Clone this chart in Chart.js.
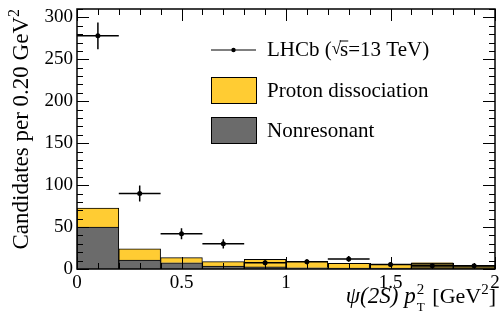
<!DOCTYPE html>
<html><head><meta charset="utf-8">
<script src="https://cdn.jsdelivr.net/npm/chart.js@4/dist/chart.umd.min.js"></script>
<style>html,body{margin:0;padding:0;background:#fff;}canvas{display:block;}</style>
</head><body>
<canvas id="c" width="499" height="324"></canvas>
<script>
// ---- data ----
const binCenters = [0.1, 0.3, 0.5, 0.7, 0.9, 1.1, 1.3, 1.5, 1.7, 1.9];
const binHalfWidth = 0.1;
const nonresonant = [50, 10.5, 7.5, 3.5, 2.5, 1.5, 1, 1, 7, 4];
const protonDissociation = [22.5, 13.5, 6, 5.2, 9, 7.5, 5.8, 4.5, 0.5, 0.5];
const lhcbValues = [278, 90, 42, 30, 7.5, 8.7, 12, 5.5, 4, 4];
const lhcbErrors = [16, 9.5, 6.5, 5.5, 3, 3, 3.5, 2.5, 2, 2];
const yTickValues = [0, 50, 100, 150, 200, 250, 300];
const xTickValues = [0, 0.5, 1, 1.5, 2];
const xTickLabels = ["0", "0.5", "1", "1.5", "2"];

const FONT = "'Liberation Serif', 'DejaVu Serif', serif";
const greyColors = nonresonant.map((v, i) => i >= 8 ? '#6a5a22' : '#6b6b6b');

const decor = {
  id: 'decor',
  afterDatasetsDraw(chart) {
    const ctx = chart.ctx, x = chart.scales.x, y = chart.scales.y, a = chart.chartArea;
    ctx.save();
    // error bars
    ctx.strokeStyle = '#000'; ctx.lineWidth = 1.5;
    binCenters.forEach((c, i) => {
      const px = x.getPixelForValue(c), py = y.getPixelForValue(lhcbValues[i]);
      ctx.beginPath();
      ctx.moveTo(x.getPixelForValue(c - binHalfWidth), py);
      ctx.lineTo(x.getPixelForValue(c + binHalfWidth), py);
      ctx.moveTo(px, y.getPixelForValue(lhcbValues[i] - lhcbErrors[i]));
      ctx.lineTo(px, y.getPixelForValue(lhcbValues[i] + lhcbErrors[i]));
      ctx.stroke();
    });
    // ticks
    ctx.lineWidth = 1;
    ctx.beginPath();
    for (let v = 0; v <= 310; v += 10) {
      const py = Math.round(y.getPixelForValue(v)) + 0.5;
      const len = v % 50 === 0 ? 12 : 6;
      ctx.moveTo(a.left, py); ctx.lineTo(a.left + len, py);
      ctx.moveTo(a.right, py); ctx.lineTo(a.right - len, py);
    }
    for (let k = 0; k <= 20; k++) {
      const v = k / 10;
      const px = Math.round(x.getPixelForValue(v)) + 0.5;
      const len = k % 5 === 0 ? 12 : 6;
      ctx.moveTo(px, a.top); ctx.lineTo(px, a.top + len);
      ctx.moveTo(px, a.bottom); ctx.lineTo(px, a.bottom - len);
    }
    ctx.stroke();
    // frame
    ctx.lineWidth = 1.5;
    ctx.strokeRect(a.left, a.top, a.right - a.left, a.bottom - a.top);
    // tick labels
    ctx.fillStyle = '#000';
    ctx.font = '19px ' + FONT;
    ctx.textAlign = 'right'; ctx.textBaseline = 'middle';
    yTickValues.forEach(v => ctx.fillText(String(v), a.left - 4, y.getPixelForValue(v)));
    ctx.textAlign = 'center'; ctx.textBaseline = 'top';
    xTickValues.forEach((v, i) => ctx.fillText(xTickLabels[i], x.getPixelForValue(v), a.bottom + 5));
    // y title
    ctx.save();
    ctx.translate(28, a.top);
    ctx.rotate(-Math.PI / 2);
    ctx.textAlign = 'right'; ctx.textBaseline = 'alphabetic';
    ctx.font = '16px ' + FONT;
    const sup = '2';
    const supW = ctx.measureText(sup).width;
    ctx.fillText(sup, 0, -9);
    ctx.font = '23px ' + FONT;
    ctx.fillText('Candidates per 0.20 GeV', -supW, 0);
    ctx.restore();
    // x title
    ctx.textAlign = 'left'; ctx.textBaseline = 'alphabetic';
    const base = 303;
    const parts = [
      {t: 'ψ(2S) p', f: 'italic 23px ' + FONT, dy: 0},
      {t: '2', f: '15px ' + FONT, dy: -9, stack: 'T'},
      {t: ' [GeV', f: '22px ' + FONT, dy: 0},
      {t: '2', f: '15px ' + FONT, dy: -9},
      {t: ']', f: '22px ' + FONT, dy: 0}
    ];
    let total = 0;
    parts.forEach(p => { ctx.font = p.f; p.w = ctx.measureText(p.t).width; if (p.stack) { p.w = Math.max(p.w, ctx.measureText(p.stack).width) + 2; } total += p.w; });
    let cx = a.right + 1 - total;
    parts.forEach(p => {
      ctx.font = p.f;
      ctx.fillText(p.t, cx + (p.stack ? 1 : 0), base + p.dy);
      if (p.stack) { ctx.font = '13px ' + FONT; ctx.fillText(p.stack, cx + 1, base + 8); }
      cx += p.w;
    });
    // legend
    ctx.lineWidth = 1;
    ctx.beginPath(); ctx.moveTo(211, 50); ctx.lineTo(256, 50); ctx.stroke();
    ctx.beginPath(); ctx.arc(233.5, 50, 2.2, 0, Math.PI * 2); ctx.fill();
    ctx.font = '21px ' + FONT; ctx.textBaseline = 'middle';
    let tx = 267;
    const t1 = 'LHCb (';
    ctx.fillText(t1, tx, 50); tx += ctx.measureText(t1).width;
    const sq = '√';
    ctx.font = '17px ' + FONT;
    ctx.fillText(sq, tx, 50); const sqW = ctx.measureText(sq).width;
    ctx.font = '21px ' + FONT;
    const sW = ctx.measureText('s').width;
    ctx.fillText('s', tx + sqW - 1, 50);
    ctx.beginPath(); ctx.moveTo(tx + sqW - 1.5, 41); ctx.lineTo(tx + sqW - 1 + sW, 41); ctx.stroke();
    tx += sqW - 1 + sW;
    ctx.fillText('=13 TeV)', tx, 50);
    ctx.fillStyle = '#ffcc33'; ctx.fillRect(211, 77, 45, 26);
    ctx.strokeStyle = '#000'; ctx.strokeRect(211.5, 77.5, 45, 26);
    ctx.fillStyle = '#6b6b6b'; ctx.fillRect(211, 117, 45, 26);
    ctx.strokeRect(211.5, 117.5, 45, 26);
    ctx.fillStyle = '#000';
    ctx.fillText('Proton dissociation', 267, 91);
    ctx.fillText('Nonresonant', 267, 131);
    ctx.restore();
  }
};

new Chart(document.getElementById('c'), {
  data: {
    datasets: [
      {
        type: 'bar', label: 'Nonresonant', stack: 'mc', order: 2,
        data: binCenters.map((c, i) => ({x: c, y: nonresonant[i]})),
        backgroundColor: greyColors, borderColor: '#000', borderWidth: 1,
        barPercentage: 1, categoryPercentage: 1
      },
      {
        type: 'bar', label: 'Proton dissociation', stack: 'mc', order: 3,
        data: binCenters.map((c, i) => ({x: c, y: protonDissociation[i]})),
        backgroundColor: '#ffcc33', borderColor: '#000', borderWidth: 1,
        barPercentage: 1, categoryPercentage: 1
      },
      {
        type: 'line', label: 'LHCb', stack: 'data', order: 1, showLine: false,
        data: binCenters.map((c, i) => ({x: c, y: lhcbValues[i]})),
        pointRadius: 2.5, pointBackgroundColor: '#000', pointBorderWidth: 0
      }
    ]
  },
  options: {
    responsive: false, animation: false, devicePixelRatio: 1,
    layout: {padding: {left: 77, right: 2, top: 9, bottom: 55}},
    plugins: {legend: {display: false}, tooltip: {enabled: false}},
    scales: {
      x: {type: 'linear', min: 0, max: 2, display: false, stacked: true, offset: false},
      y: {type: 'linear', min: 0, max: 310, display: false, stacked: true}
    }
  },
  plugins: [decor]
});
</script>
</body></html>
